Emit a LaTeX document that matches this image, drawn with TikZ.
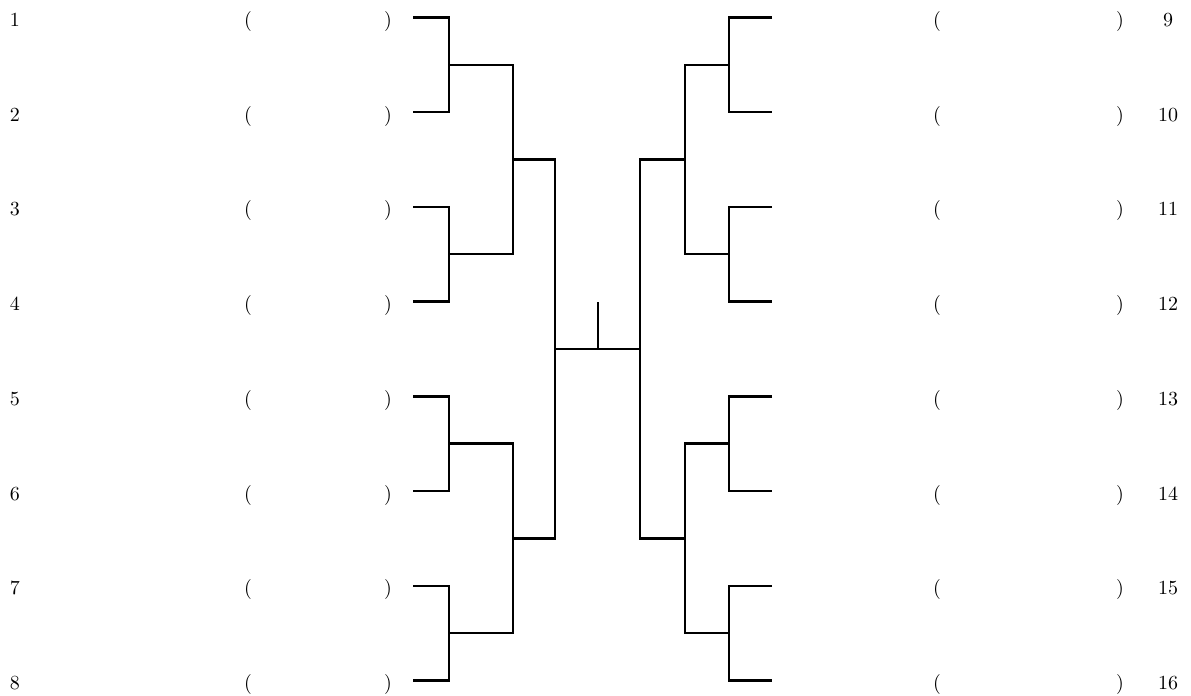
\documentclass[tikz,border=0pt]{standalone}
\usetikzlibrary{positioning}
\begin{document}
\begin{tikzpicture}[x=0.5pt,y=-0.5pt,
    seed/.style={anchor=base,inner sep=0pt,font=\normalsize},
    brk/.style={anchor=base,inner sep=0pt},
    wire/.style={line width=1.2pt}]
   \useasboundingbox (0,0) rectangle (1191,696);
   % entries, left 1-8 and right 9-16
   \foreach \i in {1,...,8}{
     \pgfmathsetmacro\ry{17.5+(\i-1)*94.7}
     \pgfmathtruncatemacro\j{\i+8}
     \node[seed] (s\i) at (15,\ry+9) {\i};
     \node[brk]  (o\i) at (248,\ry+9) {(};
     \node[brk]  (c\i) at (388,\ry+9) {)};
     \coordinate (a\i) at (413,\ry);
     \node[seed] (s\j) at (1168,\ry+9) {\j};
     \node[brk]  (o\j) at (937,\ry+9) {(};
     \node[brk]  (c\j) at (1120,\ry+9) {)};
     \coordinate (b\i) at (772,\ry);
   }
   % bracket joints
   \foreach \k in {1,...,4}{
     \pgfmathsetmacro\py{64.85+(\k-1)*189.4}
     \coordinate (p\k) at (449,\py);
     \coordinate (pr\k) at (729,\py);
   }
   \foreach \k in {1,2}{
     \pgfmathsetmacro\qy{159.55+(\k-1)*378.8}
     \coordinate (q\k) at (513,\qy);
     \coordinate (qr\k) at (685,\qy);
   }
   \coordinate (r) at (555,349.25);
   \coordinate (rr) at (640,349.25);
   \coordinate (champ) at (598,349.25);
   \coordinate (top) at (598,302);
   % first round
   \foreach \k in {1,...,4}{
     \pgfmathtruncatemacro\u{2*\k-1}
     \pgfmathtruncatemacro\v{2*\k}
     \draw[wire] (a\u) -| (p\k) |- (a\v);
     \draw[wire] (b\u) -| (pr\k) |- (b\v);
   }
   % second round
   \draw[wire] (p1) -| (q1) |- (p2);
   \draw[wire] (p3) -| (q2) |- (p4);
   \draw[wire] (pr1) -| (qr1) |- (pr2);
   \draw[wire] (pr3) -| (qr2) |- (pr4);
   % semifinal and final
   \draw[wire] (q1) -| (r) |- (q2);
   \draw[wire] (qr1) -| (rr) |- (qr2);
   \draw[wire] (r) -- (rr);
   \draw[wire] (champ) -- (top);
  \end{tikzpicture}
\end{document}
